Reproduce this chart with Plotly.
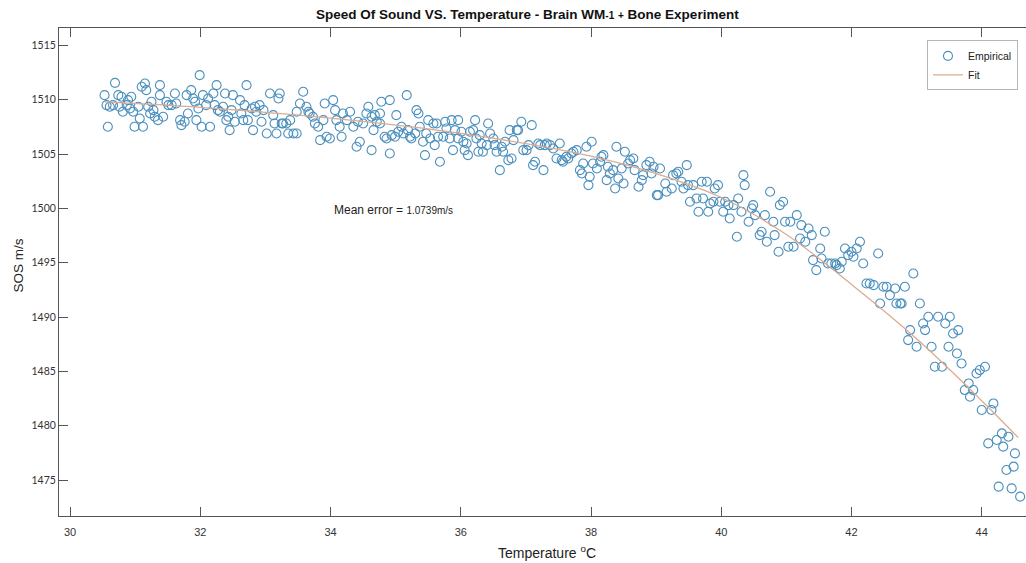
import plotly.graph_objects as go

# Measured speed of sound (m/s) against temperature (deg C)
temp_c = [
    30.53, 30.56, 30.58, 30.69, 30.61, 30.66, 30.74, 30.79, 30.76, 30.81, 30.89, 30.87,
    30.94, 30.92, 30.99, 30.97, 31.05, 31.10, 31.15, 31.12, 31.07, 31.17, 31.20, 31.23,
    31.25, 31.30, 31.28, 31.35, 31.38, 31.38, 31.43, 31.48, 31.51, 31.56, 31.61, 31.63,
    31.69, 31.71, 31.76, 31.79, 31.81, 31.86, 31.89, 31.92, 31.94, 31.99, 31.97, 32.02,
    32.04, 32.09, 32.12, 32.15, 32.20, 32.22, 32.25, 32.27, 32.30, 32.35, 32.38, 32.40,
    32.43, 32.45, 32.48, 32.50, 32.53, 32.61, 32.63, 32.66, 32.68, 32.71, 32.73, 32.79,
    32.81, 32.84, 32.86, 32.91, 32.94, 32.97, 33.02, 33.07, 33.12, 33.14, 33.17, 33.20,
    33.22, 33.25, 33.27, 33.32, 33.35, 33.38, 33.43, 33.48, 33.48, 33.53, 33.58, 33.63,
    33.66, 33.68, 33.73, 33.76, 33.81, 33.84, 33.89, 33.91, 33.94, 33.99, 34.04, 34.07,
    34.09, 34.14, 34.17, 34.19, 34.25, 34.30, 34.35, 34.40, 34.42,
    34.45, 34.50, 34.55, 34.58, 34.63, 34.63, 34.66, 34.68, 34.71, 34.76, 34.76, 34.78,
    34.83, 34.86, 34.91, 34.91, 34.94, 34.99, 35.01, 35.04, 35.09, 35.12, 35.17, 35.19,
    35.22, 35.24, 35.30, 35.32, 35.35, 35.37, 35.42, 35.45, 35.47, 35.50, 35.53, 35.58,
    35.60, 35.63, 35.65, 35.68, 35.73, 35.76, 35.78, 35.83, 35.86, 35.88, 35.91, 35.96,
    35.96, 36.01, 36.04, 36.06, 36.09, 36.11, 36.14, 36.19, 36.22, 36.24, 36.27, 36.29,
    36.32, 36.34, 36.40, 36.42, 36.45, 36.50, 36.52, 36.55, 36.60, 36.63, 36.65, 36.68,
    36.73, 36.75, 36.78, 36.81, 36.86, 36.88, 36.93, 36.96, 37.01, 37.04, 37.09, 37.11,
    37.14, 37.19, 37.22, 37.27, 37.29, 37.32, 37.37, 37.42, 37.47, 37.52, 37.55, 37.57,
    37.62, 37.65, 37.70, 37.73, 37.78, 37.83, 37.86, 37.88, 37.93, 37.96, 37.98, 38.01,
    38.03, 38.09, 38.14, 38.16, 38.19, 38.24, 38.26, 38.29, 38.34, 38.37, 38.39, 38.42,
    38.47, 38.50, 38.52, 38.57, 38.60, 38.65, 38.67, 38.73, 38.78, 38.80, 38.85, 38.90,
    38.93, 38.96, 39.01,
    39.03, 39.06, 39.14, 39.16, 39.24, 39.26, 39.31, 39.34, 39.39, 39.42, 39.47, 39.49,
    39.52, 39.57, 39.62, 39.65, 39.70, 39.72, 39.78, 39.80, 39.83, 39.88, 39.90, 39.95,
    39.98, 40.03, 40.06, 40.11, 40.13, 40.19, 40.24, 40.26, 40.31, 40.34, 40.36, 40.42,
    40.47, 40.49, 40.52, 40.59, 40.62, 40.67, 40.70, 40.75, 40.80, 40.82, 40.88, 40.90,
    40.95, 40.98, 41.03, 41.06, 41.11, 41.16, 41.21, 41.23, 41.29, 41.34, 41.39, 41.41,
    41.46, 41.52, 41.54, 41.59, 41.64, 41.69, 41.75, 41.77, 41.82, 41.85, 41.90, 41.95,
    42.00, 42.03, 42.08, 42.13, 42.18, 42.23, 42.28, 42.34, 42.41, 42.44, 42.49, 42.54,
    42.59, 42.67, 42.69,
    42.95, 42.82, 42.75, 42.77, 43.05, 43.18, 43.33, 43.51, 43.10, 43.44, 43.13, 42.90,
    43.56, 43.64, 42.87, 43.00, 43.23, 43.49, 43.62, 43.69, 43.28, 43.39, 43.92, 43.97,
    44.05, 43.80, 43.74, 43.87, 43.82, 44.00, 44.15, 44.18, 44.31, 44.41, 44.23, 44.10,
    44.33, 44.51, 44.38, 44.49, 44.26, 44.46, 44.59,
]

sos_ms = [
    1510.42, 1509.50, 1507.51, 1511.55, 1509.35, 1509.50, 1510.42, 1510.27, 1509.35, 1508.89, 1509.96, 1509.50,
    1510.27, 1509.19, 1507.51, 1508.89, 1509.35, 1511.19, 1511.49, 1507.51, 1508.27, 1510.88, 1509.35, 1508.73,
    1509.81, 1508.43, 1509.04, 1508.12, 1511.34, 1510.42, 1508.43, 1509.81, 1509.50, 1509.50, 1510.57, 1509.65,
    1508.12, 1507.66, 1507.97, 1510.42, 1508.73, 1510.88, 1510.11, 1509.81, 1508.12, 1512.26, 1509.19, 1507.51,
    1510.42, 1509.50, 1510.11, 1507.51, 1510.57, 1509.50, 1511.34, 1509.04, 1508.89, 1509.35, 1510.57, 1508.12,
    1508.43, 1507.20, 1509.04, 1510.42, 1507.97, 1509.96, 1508.73, 1508.12, 1509.50, 1511.34, 1508.12, 1509.19,
    1507.20, 1509.35, 1508.89, 1509.50, 1507.97, 1509.04, 1506.89, 1510.57, 1508.58, 1507.81, 1506.89, 1510.11,
    1510.57, 1507.81, 1507.81, 1507.81, 1506.89, 1508.12, 1506.89, 1506.89, 1508.89, 1509.65, 1510.73, 1509.35,
    1508.89, 1508.73, 1508.43, 1507.81, 1507.51, 1506.28, 1508.12, 1509.65, 1506.59, 1506.43, 1509.96, 1509.04,
    1508.12, 1507.51, 1506.59, 1508.73, 1508.12, 1508.89, 1507.51, 1505.67, 1507.97,
    1506.13, 1507.81, 1508.73, 1509.35, 1508.43, 1505.36, 1507.20, 1508.58, 1507.97, 1507.81, 1508.73, 1509.81,
    1506.59, 1506.43, 1505.05, 1509.96, 1506.74, 1506.59, 1508.58, 1507.05, 1507.51, 1506.89, 1510.42, 1507.20,
    1506.59, 1506.43, 1506.89, 1509.04, 1508.73, 1507.51, 1506.13, 1504.90, 1506.89, 1508.12, 1506.43, 1507.81,
    1505.82, 1507.81, 1506.59, 1504.29, 1506.59, 1507.97, 1507.35, 1506.43, 1508.12, 1505.36, 1507.20, 1508.12,
    1506.43, 1507.05, 1506.13, 1505.36, 1505.97, 1504.90, 1507.05, 1507.20, 1508.12, 1506.43, 1505.21, 1506.74,
    1505.97, 1505.21, 1505.82, 1507.81, 1506.89, 1506.43, 1505.82, 1505.21, 1503.52, 1505.67, 1505.21, 1506.13,
    1504.44, 1507.20, 1504.59, 1506.28, 1507.20, 1507.20, 1507.97, 1505.36, 1505.36, 1505.82, 1507.66, 1503.98,
    1504.29, 1505.97, 1505.82, 1503.52, 1505.82, 1505.97, 1505.82, 1505.51, 1504.59, 1505.97, 1504.44, 1504.29,
    1504.75, 1504.59, 1505.05, 1505.21, 1505.36, 1503.52, 1503.21, 1504.13, 1505.67, 1502.14, 1502.91, 1506.13,
    1504.13, 1503.67, 1504.29, 1504.75, 1504.90, 1502.60, 1503.83, 1503.21, 1503.52, 1501.83, 1505.67, 1502.75,
    1503.67, 1502.29, 1505.21, 1504.13, 1504.44, 1504.59, 1503.52, 1501.99, 1502.60, 1503.06, 1503.98, 1504.29,
    1503.21, 1503.83, 1501.22,
    1501.22, 1503.67, 1502.29, 1501.53, 1501.83, 1503.06, 1503.21, 1503.37, 1502.45, 1501.83, 1503.98, 1502.14,
    1500.61, 1502.14, 1500.91, 1499.69, 1502.45, 1500.91, 1502.45, 1499.69, 1500.45, 1500.61, 1501.83, 1502.14,
    1500.61, 1499.69, 1500.61, 1500.30, 1499.07, 1500.30, 1497.39, 1500.91, 1499.69, 1503.06, 1502.14, 1498.77,
    1499.99, 1500.30, 1499.38, 1497.54, 1497.85, 1499.38, 1496.93, 1501.53, 1498.77, 1497.54, 1496.01, 1500.30,
    1500.61, 1498.77, 1496.47, 1498.77, 1496.47, 1499.38, 1497.23, 1498.46, 1496.93, 1498.15, 1497.54, 1495.24,
    1494.32, 1496.31, 1495.39, 1497.85, 1494.93, 1494.93, 1494.93, 1494.78, 1494.47, 1495.09, 1496.31, 1495.70,
    1496.01, 1495.55, 1496.31, 1496.93, 1494.93, 1493.09, 1493.09, 1492.94, 1495.85, 1491.25, 1492.79, 1492.79,
    1492.02, 1492.63, 1491.25,
    1494.01, 1492.79, 1491.25, 1491.25, 1491.25, 1490.03, 1490.03, 1490.03, 1489.41, 1489.41, 1488.80, 1488.80,
    1488.49, 1488.80, 1487.88, 1487.27, 1487.27, 1487.27, 1486.65, 1485.73, 1485.43, 1485.43, 1484.81, 1485.12,
    1485.43, 1483.89, 1483.28, 1483.28, 1482.67, 1481.44, 1481.44, 1482.05, 1479.29, 1478.99, 1478.68, 1478.37,
    1478.07, 1477.45, 1475.92, 1476.23, 1474.39, 1474.23, 1473.47,
]

# Fitted curve
fit_temp = [30.53, 32.0, 34.0, 36.0, 38.0, 39.0, 40.0, 41.0, 42.0, 43.0, 44.0, 44.56]
fit_sos = [1509.8, 1509.3, 1508.3, 1506.9, 1504.8, 1503.2, 1501.0, 1497.6, 1493.0, 1488.0, 1482.3, 1478.9]

x_ticks = [30, 32, 34, 36, 38, 40, 42, 44]
y_ticks = [1475, 1480, 1485, 1490, 1495, 1500, 1505, 1510, 1515]

fig = go.Figure()
fig.add_trace(go.Scatter(
    x=temp_c, y=sos_ms, mode="markers", name="Empirical",
    marker=dict(symbol="circle-open", size=9, color="#4a8fbd", line=dict(width=1.1)),
))
fig.add_trace(go.Scatter(
    x=fit_temp, y=fit_sos, mode="lines", name="Fit", line_shape="spline",
    line=dict(color="#dcab90", width=1.3),
))

axis_col = "#555555"
fig.update_layout(
    width=1026, height=563,
    margin=dict(l=59, r=0, t=28, b=47),
    paper_bgcolor="white", plot_bgcolor="white",
    font=dict(family="Liberation Sans, Arial, sans-serif", color="#222222"),
    title=dict(
        text="<b>Speed Of Sound VS. Temperature - Brain WM<span style='font-size:10px'>-1</span> "
             "<span style='font-size:10px'>+</span> Bone Experiment</b>",
        x=0.514, xanchor="center", y=0.975, yanchor="middle",
        font=dict(size=13.5, color="#111111"),
    ),
    xaxis=dict(
        range=[29.83, 44.68], tickvals=x_ticks, ticktext=[str(v) for v in x_ticks],
        showgrid=False, zeroline=False,
        showline=True, linecolor=axis_col, linewidth=1, mirror="ticks",
        ticks="inside", ticklen=9, tickcolor=axis_col, ticklabelstandoff=6,
        tickfont=dict(family="Liberation Sans Narrow, Arial Narrow, sans-serif", size=11, color="#333333"),
    ),
    yaxis=dict(
        range=[1471.69, 1516.6], tickvals=y_ticks,
        showgrid=False, zeroline=False,
        showline=True, linecolor=axis_col, linewidth=1, mirror=False,
        ticks="inside", ticklen=9, tickcolor=axis_col,
        tickfont=dict(family="Lato, sans-serif", size=10.5, color="#333333"),
    ),
    legend=dict(
        x=0.8976, xanchor="left", y=0.9746, yanchor="top",
        bgcolor="white", bordercolor="#b5b5b5", borderwidth=1,
        font=dict(size=10.5, color="#222222"),
        tracegroupgap=0, itemwidth=30, entrywidth=70,
    ),
    showlegend=True,
)

fig.add_annotation(
    text="SOS m/s", textangle=-90, xref="paper", yref="paper",
    x=-0.0417, y=0.5126, xanchor="center", yanchor="middle", showarrow=False,
    font=dict(size=13.5, color="#222222"),
)
fig.add_annotation(
    text="Temperature <sup>o</sup>C", xref="paper", yref="paper",
    x=0.5045, y=-0.0738, xanchor="center", yanchor="middle", showarrow=False,
    font=dict(family="Liberation Sans Narrow, Arial Narrow, sans-serif", size=14, color="#222222"),
)
fig.add_annotation(
    text="Mean error = <span style='font-size:10px'>1.0739m/s</span>",
    x=34.02, y=1499.84, xanchor="left", yanchor="middle", showarrow=False,
    font=dict(size=12, color="#222222"),
)

fig.write_html("out.html")
